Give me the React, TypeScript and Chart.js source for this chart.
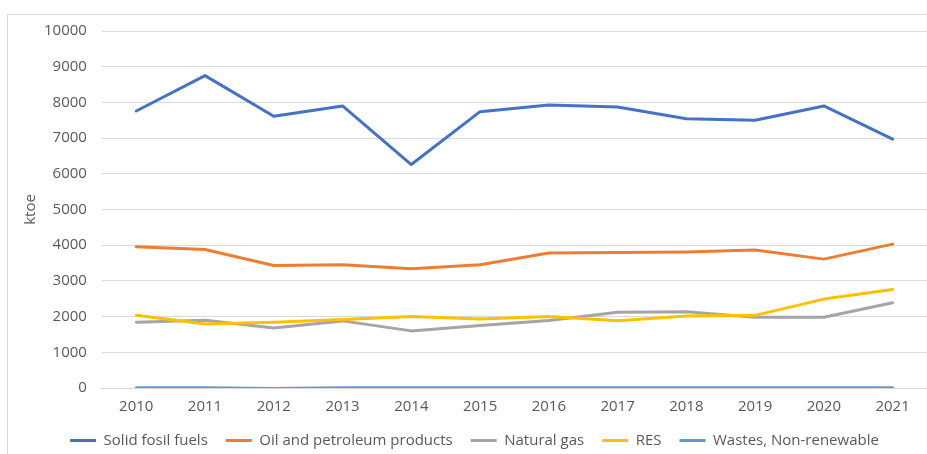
import React, { useEffect, useRef } from "react";
import { Chart, registerables } from "chart.js";

Chart.register(...registerables);

const years = ["2010", "2011", "2012", "2013", "2014", "2015", "2016", "2017", "2018", "2019", "2020", "2021"];
const solidFossil = [7760, 8750, 7610, 7900, 6260, 7740, 7930, 7870, 7540, 7500, 7900, 6970];
const oilPetroleum = [3960, 3880, 3430, 3450, 3340, 3450, 3780, 3795, 3810, 3865, 3610, 4030];
const naturalGas = [1840, 1900, 1680, 1880, 1600, 1750, 1890, 2125, 2135, 1980, 1980, 2390];
const res = [2035, 1790, 1840, 1920, 2005, 1930, 2005, 1885, 2015, 2035, 2490, 2760];
const wastes = [10, 10, -15, 5, 5, 5, 5, 5, 5, 5, 5, 5];
const yTicksMax = 10000;
const yStep = 1000;

const seriesNames = ["Solid fosil fuels", "Oil and petroleum products", "Natural gas", "RES", "Wastes, Non-renewable"];
const seriesColors = ["#4472C4", "#ED7D31", "#A5A5A5", "#FFC000", "#5B9BD5"];
const seriesData = [solidFossil, oilPetroleum, naturalGas, res, wastes];

const FONT = "'Open Sans', 'Liberation Sans', sans-serif";
const FS = 15;
const TEXT = "#595959";

export default function App() {
  const ref = useRef<HTMLCanvasElement | null>(null);
  useEffect(() => {
    if (!ref.current) return;
    const chart = new Chart(ref.current, {
      type: "line",
      data: {
        labels: years,
        datasets: seriesData.map((d, i) => ({
          label: seriesNames[i],
          data: d,
          borderColor: seriesColors[i],
          backgroundColor: seriesColors[i],
          borderWidth: 3,
          pointRadius: 0,
          pointHoverRadius: 0,
          tension: 0,
          borderJoinStyle: "round" as const,
          borderCapStyle: "round" as const,
          fill: false,
          order: seriesData.length - i,
        })),
      },
      options: {
        animation: false,
        responsive: true,
        maintainAspectRatio: false,
        layout: { padding: { top: 6, left: 14, right: 0, bottom: 0 } },
        plugins: {
          tooltip: { enabled: false },
          legend: {
            position: "bottom",
            labels: {
              color: TEXT,
              font: { family: FONT, size: FS },
              boxWidth: 26,
              boxHeight: 3,
              padding: 18,
              sort: (a: any, b: any) => a.datasetIndex - b.datasetIndex,
              generateLabels: (c: any) => {
                const items = Chart.defaults.plugins.legend.labels.generateLabels(c);
                return items.map((it: any) => ({ ...it, lineWidth: 0, fillStyle: it.strokeStyle }));
              },
            },
          },
        },
        scales: {
          x: {
            offset: true,
            grid: { display: false, drawTicks: false },
            border: { display: true, color: "#D9D9D9" },
            ticks: { color: TEXT, font: { family: FONT, size: FS }, padding: 10, maxRotation: 0 },
            afterFit: (scale: any) => {
              scale.height -= 11;
            },
          },
          y: {
            min: 0,
            max: yTicksMax,
            ticks: {
              stepSize: yStep,
              color: TEXT,
              font: { family: FONT, size: FS },
              padding: 15,
              callback: (v: any) => String(v),
            },
            grid: { color: "#D9D9D9", drawTicks: false, lineWidth: 1 },
            border: { display: false },
            title: { display: true, text: "ktoe", color: TEXT, font: { family: FONT, size: FS }, padding: { top: 0, bottom: 4 } },
            afterFit: (scale: any) => {
              scale.width -= 15;
            },
          },
        },
      },
    });
    return () => chart.destroy();
  }, []);
  return (
    <div
      style={{
        position: "fixed",
        left: 7,
        top: 14,
        width: 920,
        height: 443,
        borderTop: "1px solid #D9D9D9",
        borderLeft: "1px solid #D9D9D9",
        background: "#fff",
      }}
    >
      <div style={{ position: "relative", top: -8, width: 919, height: 451 }}>
        <canvas ref={ref} />
      </div>
    </div>
  );
}
